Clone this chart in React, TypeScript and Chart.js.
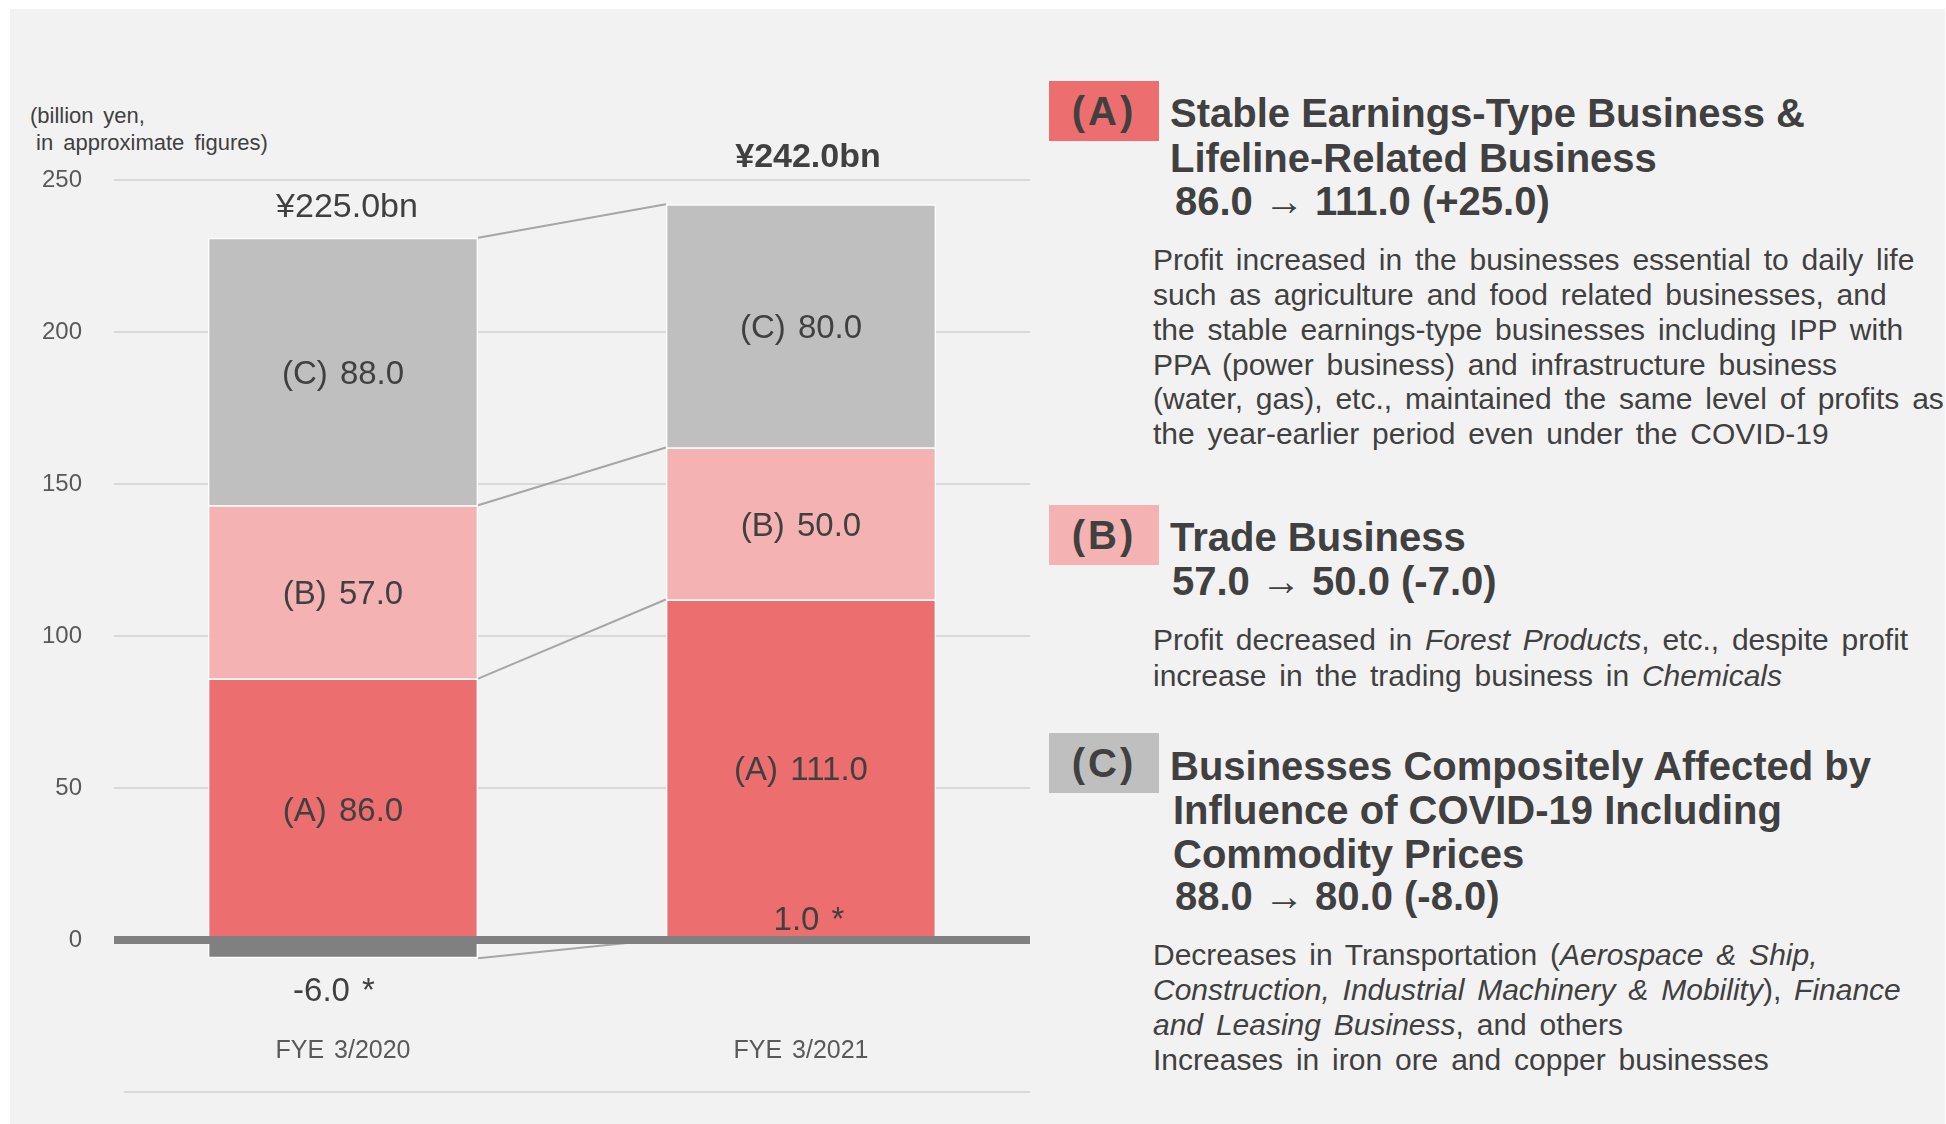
import React, { useEffect, useRef } from "react";
import { Chart, registerables } from "chart.js";

Chart.register(...registerables);

// ---- data ----
const categories = ["FYE 3/2020", "FYE 3/2021"];
const otherValues = [-6.0, 1.0];
const seriesA = [86.0, 111.0];
const seriesB = [57.0, 50.0];
const seriesC = [88.0, 80.0];
const totals = [225.0, 242.0];
const segmentPrefixes = ["(A)", "(B)", "(C)"];
const yMin = -50;
const yMax = 250;
const yStep = 50;

const FONT = "'Liberation Sans', Arial, Helvetica, sans-serif";
const TEXT = "#404040";
const COLORS = {
  other: "#808080",
  A: "#EC6E6E",
  B: "#F4B2B2",
  C: "#BFBFBF",
};

const fmt = (v: number) => v.toFixed(1);
const fmtDiff = (a: number, b: number) => {
  const d = b - a;
  return d > 0 ? "+" + d.toFixed(1) : d.toFixed(1);
};

const overlayPlugin = {
  id: "overlay",
  afterDatasetsDraw(chart: any) {
    const ctx = chart.ctx;
    const ys = chart.scales.y;
    const area = chart.chartArea;
    const metas = [0, 1, 2, 3].map((i) =>
      chart.getDatasetMeta(i).data.map((el: any) => el.getProps(["x", "y", "base", "width"], true))
    );
    ctx.save();
    // connectors
    const b1 = metas[1][0];
    const b2 = metas[1][1];
    const x1 = b1.x + b1.width / 2;
    const x2 = b2.x - b2.width / 2;
    const pairs = [
      [metas[0][0].y, metas[0][1].base],
      [metas[1][0].y, metas[1][1].y],
      [metas[2][0].y, metas[2][1].y],
      [metas[3][0].y, metas[3][1].y],
    ];
    ctx.strokeStyle = "#A6A6A6";
    ctx.lineWidth = 2;
    pairs.forEach(([ya, yb]) => {
      ctx.beginPath();
      ctx.moveTo(x1, ya);
      ctx.lineTo(x2, yb);
      ctx.stroke();
    });
    // zero line
    const y0 = ys.getPixelForValue(0);
    ctx.fillStyle = "#808080";
    ctx.fillRect(area.left, y0 - 4, area.right - area.left, 8);
    // bottom line
    const yb = ys.getPixelForValue(yMin);
    ctx.fillStyle = "#D9D9D9";
    ctx.fillRect(area.left + 10, yb - 1, area.right - area.left - 10, 2);

    ctx.textAlign = "center";
    ctx.textBaseline = "middle";
    try { (ctx as any).wordSpacing = "3px"; } catch (e) {}
    const dy = 3;
    // segment labels
    ctx.fillStyle = TEXT;
    ctx.font = `33px ${FONT}`;
    const segData = [seriesA, seriesB, seriesC];
    for (let d = 0; d < 3; d++) {
      metas[d + 1].forEach((el: any, i: number) => {
        ctx.fillText(`${segmentPrefixes[d]} ${fmt(segData[d][i])}`, el.x, (el.y + el.base) / 2 + dy);
      });
    }
    // other labels
    metas[0].forEach((el: any, i: number) => {
      const v = otherValues[i];
      const ty = v < 0 ? el.y + 31 : el.y - 19;
      const tx = v < 0 ? el.x - 9 : el.x + 8;
      ctx.fillText(`${fmt(v)} *`, tx, ty + dy);
    });
    // totals
    metas[3].forEach((el: any, i: number) => {
      const last = i === totals.length - 1;
      ctx.font = `${last ? "bold " : ""}34px ${FONT}`;
      ctx.fillText(`¥${fmt(totals[i])}bn`, el.x + (last ? 7 : 4), el.y - (last ? 50 : 33) + dy);
    });
    // category labels
    ctx.font = `25px ${FONT}`;
    ctx.fillStyle = "#595959";
    const yc = ys.getPixelForValue(-36) + 1.5;
    metas[1].forEach((el: any, i: number) => {
      ctx.fillText(categories[i], el.x, yc);
    });
    ctx.restore();
  },
};

function ChartPanel() {
  const ref = useRef<HTMLCanvasElement | null>(null);
  useEffect(() => {
    if (!ref.current) return;
    const chart = new Chart(ref.current, {
      type: "bar",
      data: {
        labels: categories,
        datasets: [
          { label: "Other", data: otherValues, backgroundColor: COLORS.other, borderColor: "#FFFFFF", borderWidth: 1.5 },
          { label: "(A)", data: seriesA, backgroundColor: COLORS.A, borderColor: "#FFFFFF", borderWidth: 1.5 },
          { label: "(B)", data: seriesB, backgroundColor: COLORS.B, borderColor: "#FFFFFF", borderWidth: 1.5 },
          { label: "(C)", data: seriesC, backgroundColor: COLORS.C, borderColor: "#FFFFFF", borderWidth: 1.5 },
        ],
      },
      options: {
        animation: false,
        responsive: false,
        maintainAspectRatio: false,
        devicePixelRatio: 1,
        layout: { padding: { top: 180, bottom: 32, right: 10, left: 0 } },
        plugins: { legend: { display: false }, tooltip: { enabled: false } },
        datasets: { bar: { categoryPercentage: 0.59, barPercentage: 1 } },
        scales: {
          x: { stacked: true, display: false },
          y: {
            stacked: true,
            min: yMin,
            max: yMax,
            border: { display: false },
            grid: {
              drawTicks: false,
              lineWidth: 2,
              color: (c: any) => (c.tick && (c.tick.value === 0 || c.tick.value === yMin) ? "rgba(0,0,0,0)" : "#D9D9D9"),
            },
            ticks: {
              stepSize: yStep,
              padding: 32,
              color: "#595959",
              font: { family: FONT, size: 24 },
              callback: (v: any) => (Number(v) < 0 ? "" : String(v)),
            },
            afterFit: (s: any) => {
              s.width = 114;
              s.paddingTop = 0;
              s.paddingBottom = 0;
            },
          },
        },
      },
      plugins: [overlayPlugin],
    } as any);
    return () => chart.destroy();
  }, []);
  return (
    <canvas
      ref={ref}
      width={1040}
      height={1124}
      style={{ position: "absolute", left: 0, top: 0, width: 1040, height: 1124 }}
    />
  );
}

function Line(props: { left: number; center: number; size: number; bold?: boolean; children: any }) {
  const lh = Math.round(props.size * 1.2);
  return (
    <div
      style={{
        position: "absolute",
        left: props.left,
        top: props.center - lh / 2,
        fontSize: props.size,
        lineHeight: lh + "px",
        fontWeight: props.bold ? 700 : 400,
        whiteSpace: "pre",
        wordSpacing: props.bold ? 0 : 4.5,
        color: TEXT,
      }}
    >
      {props.children}
    </div>
  );
}

function Box(props: { top: number; color: string; text: string }) {
  return (
    <div
      style={{
        position: "absolute",
        left: 1049,
        top: props.top,
        width: 110,
        height: 60,
        background: props.color,
        color: TEXT,
        fontWeight: 700,
        fontSize: 40,
        lineHeight: "60px",
        textAlign: "center",
        letterSpacing: 3,
      }}
    >
      {props.text}
    </div>
  );
}

export default function App() {
  const BX = 1153;
  return (
    <div style={{ position: "absolute", left: 0, top: 0, width: 1946, height: 1124, background: "#FFFFFF", fontFamily: FONT, overflow: "hidden" }}>
      <div style={{ position: "absolute", left: 10, top: 9, width: 1935, height: 1115, background: "#F2F2F2" }} />
      <div style={{ position: "absolute", left: 30, top: 116 - 13, fontSize: 22, lineHeight: "26px", color: TEXT, whiteSpace: "pre", wordSpacing: 3.5 }}>(billion yen,</div>
      <div style={{ position: "absolute", left: 36, top: 143 - 13, fontSize: 22, lineHeight: "26px", color: TEXT, whiteSpace: "pre", wordSpacing: 4 }}>in approximate figures)</div>
      <ChartPanel />

      <Box top={81} color={COLORS.A} text="(A)" />
      <Line left={1170} center={113} size={40} bold>Stable Earnings-Type Business &amp;</Line>
      <Line left={1170} center={158} size={40} bold>Lifeline-Related Business</Line>
      <Line left={1175} center={201} size={40} bold>{`${fmt(seriesA[0])} → ${fmt(seriesA[1])} (${fmtDiff(seriesA[0], seriesA[1])})`}</Line>
      <Line left={BX} center={260} size={30}>Profit increased in the businesses essential to daily life</Line>
      <Line left={BX} center={295} size={30}>such as agriculture and food related businesses, and</Line>
      <Line left={BX} center={330} size={30}>the stable earnings-type businesses including IPP with</Line>
      <Line left={BX} center={365} size={30}>PPA (power business) and infrastructure business</Line>
      <Line left={BX} center={399} size={30}>(water, gas), etc., maintained the same level of profits as</Line>
      <Line left={BX} center={434} size={30}>the year-earlier period even under the COVID-19</Line>

      <Box top={505} color={COLORS.B} text="(B)" />
      <Line left={1170} center={537} size={40} bold>Trade Business</Line>
      <Line left={1172} center={581} size={40} bold>{`${fmt(seriesB[0])} → ${fmt(seriesB[1])} (${fmtDiff(seriesB[0], seriesB[1])})`}</Line>
      <Line left={BX} center={640} size={30}>Profit decreased in <i>Forest Products</i>, etc., despite profit</Line>
      <Line left={BX} center={676} size={30}>increase in the trading business in <i>Chemicals</i></Line>

      <Box top={733} color={COLORS.C} text="(C)" />
      <Line left={1170} center={766} size={40} bold>Businesses Compositely Affected by</Line>
      <Line left={1173} center={810} size={40} bold>Influence of COVID-19 Including</Line>
      <Line left={1173} center={854} size={40} bold>Commodity Prices</Line>
      <Line left={1175} center={896} size={40} bold>{`${fmt(seriesC[0])} → ${fmt(seriesC[1])} (${fmtDiff(seriesC[0], seriesC[1])})`}</Line>
      <Line left={BX} center={955} size={30}>Decreases in Transportation (<i>Aerospace &amp; Ship,</i></Line>
      <Line left={BX} center={990} size={30}><i>Construction, Industrial Machinery &amp; Mobility</i>), <i>Finance</i></Line>
      <Line left={BX} center={1025} size={30}><i>and Leasing Business</i>, and others</Line>
      <Line left={BX} center={1060} size={30}>Increases in iron ore and copper businesses</Line>
    </div>
  );
}
